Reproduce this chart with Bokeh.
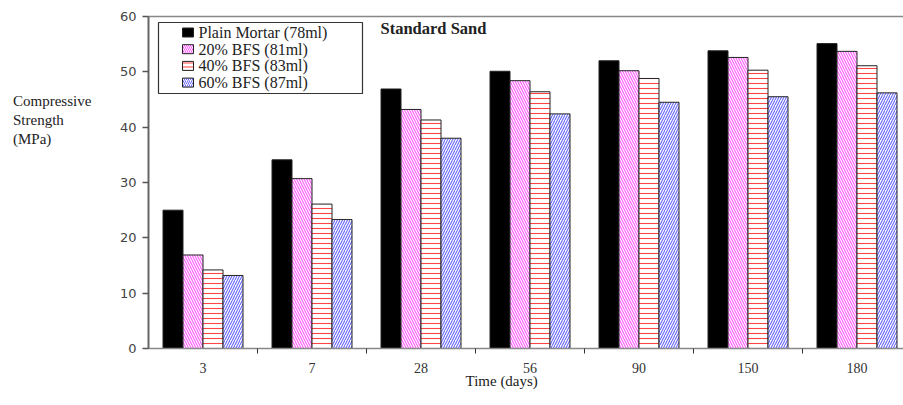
from bokeh.plotting import figure
from bokeh.models import (ColumnDataSource, FixedTicker, LinearAxis, Range1d, Label,
                          BoxAnnotation, Title, Div)
from bokeh.layouts import row
from bokeh.embed import file_html
from bokeh.resources import INLINE

categories = ["3", "7", "28", "56", "90", "150", "180"]
series_names = ["Plain Mortar (78ml)", "20% BFS (81ml)", "40% BFS (83ml)", "60% BFS (87ml)"]
plain = [25.0, 34.1, 46.9, 50.1, 52.0, 53.8, 55.1]
bfs20 = [16.9, 30.7, 43.2, 48.4, 50.2, 52.6, 53.7]
bfs40 = [14.2, 26.1, 41.3, 46.4, 48.8, 50.3, 51.1]
bfs60 = [13.2, 23.3, 38.0, 42.4, 44.5, 45.5, 46.2]
y_ticks = [0, 10, 20, 30, 40, 50, 60]
y_title_lines = ["Compressive", "Strength", "(MPa)"]

SERIF = "Liberation Serif"
SANS = "DejaVu Sans"

# frame geometry (pixels)
DIV_W = 110
FL, FR, FT, FB = 148, 903, 16, 348
CAT_PX = 109.0
X_END = (FR - FL) / CAT_PX
PX_PER_Y = (FB - FT) / 60.0


def dx(px):
    return (px - FL) / CAT_PX


def dy(py):
    return (FB - py) / PX_PER_Y


centers = [i + 0.5 for i in range(len(categories))]
bar_w = 20.0 / CAT_PX

p = figure(width=903 - DIV_W, height=405, output_backend="svg", toolbar_location=None,
           x_range=Range1d(0, X_END), y_range=Range1d(0, 60),
           min_border_left=FL - DIV_W, min_border_right=0, min_border_top=FT,
           min_border_bottom=405 - FB, margin=0)
p.outline_line_color = None
p.xgrid.grid_line_color = None
p.ygrid.grid_line_color = None
p.background_fill_color = "white"
p.border_fill_color = "white"

styles = [
    dict(fill_color="black", hatch_pattern=" ", hatch_color="black"),
    dict(fill_color="white", hatch_pattern="\\", hatch_color="#ff55ff"),
    dict(fill_color="white", hatch_pattern="-", hatch_color="#ff4444"),
    dict(fill_color="white", hatch_pattern="/", hatch_color="#6666ff"),
]
values = [plain, bfs20, bfs40, bfs60]
for k, (vals, st) in enumerate(zip(values, styles)):
    xs = [c + (k - 1.5) * bar_w for c in centers]
    src = ColumnDataSource(dict(x=xs, top=vals))
    p.vbar(x="x", top="top", bottom=0, width=bar_w, source=src,
           fill_color=st["fill_color"], line_color="#222222", line_width=1,
           hatch_pattern=st["hatch_pattern"], hatch_color=st["hatch_color"],
           hatch_scale=5, hatch_weight=1.1)

# x axis
xa = p.xaxis[0]
xa.ticker = FixedTicker(ticks=centers, minor_ticks=list(range(1, len(categories))))
xa.major_label_overrides = {c: lab for c, lab in zip(centers, categories)}
xa.major_tick_line_color = None
xa.major_tick_out = 0
xa.minor_tick_line_color = "#333333"
xa.minor_tick_out = 5
xa.minor_tick_in = 0
xa.axis_line_color = "#888888"
xa.axis_line_width = 1.5
xa.major_label_text_font = SERIF
xa.major_label_text_font_size = "14px"
xa.major_label_text_color = "#333333"
xa.major_label_standoff = 9

p.add_layout(Title(text="Time (days)", align="left", offset=465 - FL,
                   text_font=SERIF, text_font_size="15px", text_font_style="normal",
                   text_color="#222222", standoff=-10), "below")

# y axis
ya = p.yaxis[0]
ya.ticker = FixedTicker(ticks=y_ticks, minor_ticks=[])
ya.major_tick_out = 6
ya.major_tick_in = 0
ya.major_tick_line_color = "#555555"
ya.major_tick_line_width = 1.5
ya.axis_line_color = "#666666"
ya.axis_line_width = 2
ya.major_label_text_font = SANS
ya.major_label_text_font_size = "13px"
ya.major_label_text_color = "#444444"
ya.major_label_standoff = 6

# top line
top_axis = LinearAxis(ticker=FixedTicker(ticks=[]), major_tick_line_color=None,
                      minor_tick_line_color=None, major_label_text_font_size="0px",
                      axis_line_color="#888888", axis_line_width=1.5)
p.add_layout(top_axis, "above")

# chart title
p.add_layout(Label(x=dx(380), y=dy(28), text="Standard Sand", text_font=SERIF,
                   text_font_size="16.5px", text_font_style="bold", text_color="#222222",
                   text_baseline="middle", text_align="left"))

# legend (drawn inside the frame)
p.add_layout(BoxAnnotation(left=dx(158), right=dx(362), top=dy(22), bottom=dy(93),
                           fill_color="white", fill_alpha=1, line_color="#333333",
                           line_alpha=1, line_width=1.2, level="underlay"))
row_y = [dy(32 + i * 16.7) for i in range(len(series_names))]
for i, (name, st) in enumerate(zip(series_names, styles)):
    p.rect(x=[dx(187.5)], y=[row_y[i]], width=11, height=9, width_units="screen",
           height_units="screen", fill_color=st["fill_color"], line_color="#222222",
           line_width=1, hatch_pattern=st["hatch_pattern"], hatch_color=st["hatch_color"],
           hatch_scale=4, hatch_weight=1.0)
    p.add_layout(Label(x=dx(198), y=row_y[i], text=name, text_font=SERIF,
                       text_font_size="16px", text_color="#222222",
                       text_baseline="middle", text_align="left"))

# y-axis title (left of the figure)
ytitle_html = "<br>".join(y_title_lines)
div = Div(text=("<div style='position:absolute; left:13px; top:92px; line-height:19px;"
                " white-space:nowrap;'>" + ytitle_html + "</div>"),
          width=DIV_W, height=405, margin=0,
          styles={"position": "relative", "background-color": "white",
                  "font-family": "'Liberation Serif', 'Times New Roman', serif",
                  "font-size": "15px", "color": "#222222"})

layout = row(div, p, spacing=0)
open("out.html", "w").write(file_html(layout, INLINE))
